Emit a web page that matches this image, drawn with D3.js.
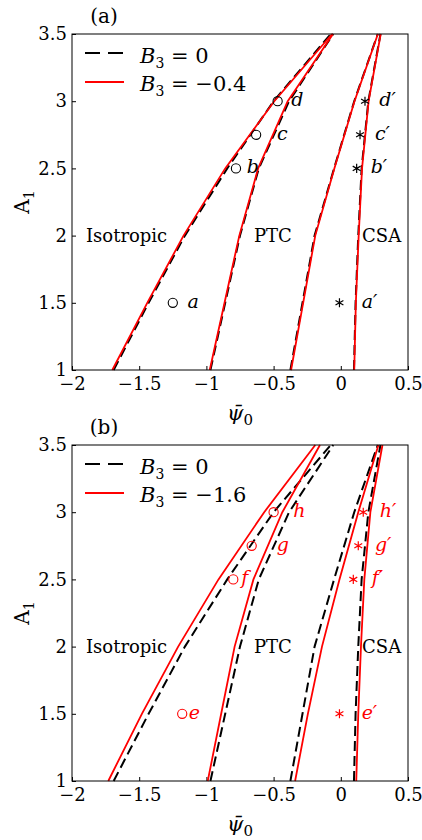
<!DOCTYPE html>
<html>
<head>
<meta charset="utf-8">
<script src="https://cdn.jsdelivr.net/npm/d3@7"></script>
<style>
  body { margin: 0; background: #fff; }
  text { font-family: "DejaVu Serif", serif; fill: #000; }
</style>
</head>
<body>
<svg id="chart" width="422" height="840"></svg>
<script>
// A1 values where the phase boundaries were sampled
const a1Grid = [1, 1.5, 2, 2.5, 3, 3.5];

// B3 = 0 boundaries (psi0 at each A1)
const zeroBound1 = [-1.69, -1.43, -1.16, -0.845, -0.50, -0.075];
const zeroBound2 = [-0.97, -0.86, -0.75, -0.61, -0.385, -0.056];
const zeroBound3 = [-0.375, -0.285, -0.195, -0.05, 0.10, 0.275];
const zeroBound4 = [0.098, 0.11, 0.13, 0.155, 0.205, 0.295];

// B3 = -0.4
const weakBound1 = [-1.70, -1.44, -1.17, -0.86, -0.495, -0.065];
const weakBound2 = [-0.975, -0.865, -0.755, -0.615, -0.395, -0.058];
const weakBound3 = [-0.37, -0.28, -0.19, -0.048, 0.102, 0.276];
const weakBound4 = [0.10, 0.112, 0.133, 0.158, 0.207, 0.297];

// B3 = -1.6
const strongBound1 = [-1.73, -1.48, -1.21, -0.91, -0.57, -0.19];
const strongBound2 = [-0.99, -0.89, -0.79, -0.65, -0.435, -0.155];
const strongBound3 = [-0.34, -0.245, -0.14, -0.01, 0.13, 0.28];
const strongBound4 = [0.115, 0.13, 0.15, 0.175, 0.22, 0.31];

// marked states
const pointA1 = [1.5, 2.5, 2.75, 3];
const circlePsiA = [-1.25, -0.78, -0.63, -0.47];
const starPsiA = [-0.01, 0.118, 0.143, 0.18];
const circleLabelPsiA = [-1.14, -0.70, -0.475, -0.368];
const starLabelPsiA = [0.155, 0.222, 0.254, 0.286];
const circleNamesA = ["a", "b", "c", "d"];
const starNamesA = ["a′", "b′", "c′", "d′"];

const circlePsiB = [-1.18, -0.80, -0.663, -0.50];
const starPsiB = [-0.01, 0.093, 0.13, 0.167];
const circleLabelPsiB = [-1.132, -0.74, -0.476, -0.354];
const starLabelPsiB = [0.155, 0.23, 0.254, 0.29];
const circleNamesB = ["e", "f", "g", "h"];
const starNamesB = ["e′", "f′", "g′", "h′"];

const regionNames = ["Isotropic", "PTC", "CSA"];
const regionPsi = [-1.896, -0.646, 0.158];
const regionA1 = 2;

const xTicks = [-2, -1.5, -1, -0.5, 0, 0.5];
const xTickLabels = ["−2", "−1.5", "−1", "−0.5", "0", "0.5"];
const yTicks = [1, 1.5, 2, 2.5, 3, 3.5];
const yTickLabels = ["1", "1.5", "2", "2.5", "3", "3.5"];

const svg = d3.select("#chart");
const LEFT = 72;
const W = 336;
const H = 336;
const RED = "#ff0000";

const x = d3.scaleLinear().domain([-2, 0.5]).range([0, W]);
const y = d3.scaleLinear().domain([1, 3.5]).range([H, 0]);

const line = d3.line()
  .x(d => x(d[0]))
  .y(d => y(d[1]));

function drawPanel(top, tag, redLabel, redBounds, pts) {
  const g = svg.append("g").attr("transform", `translate(${LEFT},${top})`);

  const xAxis = d3.axisBottom(x).tickValues(xTicks)
    .tickFormat((d, i) => xTickLabels[i]).tickSize(-4).tickPadding(7);
  const yAxis = d3.axisLeft(y).tickValues(yTicks)
    .tickFormat((d, i) => yTickLabels[i]).tickSize(-4).tickPadding(5);

  const gx = g.append("g").attr("transform", `translate(0,${H})`).call(xAxis);
  const gy = g.append("g").call(yAxis);
  [gx, gy].forEach(a => {
    a.select(".domain").remove();
    a.selectAll("text").style("font-family", "DejaVu Serif").style("font-size", "18px");
    a.selectAll("line").attr("stroke", "#000");
  });

  // black dashed B3 = 0
  [zeroBound1, zeroBound2, zeroBound3, zeroBound4].forEach(b => {
    g.append("path")
      .attr("d", line(b.map((v, i) => [v, a1Grid[i]])))
      .attr("fill", "none")
      .attr("stroke", "#000")
      .attr("stroke-width", 2)
      .attr("stroke-dasharray", "10,5");
  });
  // red B3 != 0
  redBounds.forEach(b => {
    g.append("path")
      .attr("d", line(b.map((v, i) => [v, a1Grid[i]])))
      .attr("fill", "none")
      .attr("stroke", RED)
      .attr("stroke-width", 1.8);
  });

  // region labels
  regionNames.forEach((name, i) => {
    g.append("text")
      .attr("x", x(regionPsi[i]))
      .attr("y", y(regionA1) + 6)
      .style("font-size", "18px")
      .text(name);
  });

  // markers
  const col = pts.color;
  pts.circles.forEach((v, i) => {
    g.append("circle")
      .attr("cx", x(v)).attr("cy", y(pointA1[i]))
      .attr("r", 4.6)
      .attr("fill", "none").attr("stroke", col).attr("stroke-width", 1.1);
    g.append("text")
      .attr("x", x(pts.circleLabels[i])).attr("y", y(pointA1[i]) + 5)
      .style("font-size", "19px").style("font-style", "italic")
      .style("fill", col)
      .text(pts.circleNames[i]);
  });
  const star = d3.symbol(d3.symbolAsterisk, 58);
  pts.stars.forEach((v, i) => {
    g.append("path")
      .attr("d", star())
      .attr("transform", `translate(${x(v)},${y(pointA1[i])})`)
      .attr("fill", "none").attr("stroke", col).attr("stroke-width", 1.2);
    g.append("text")
      .attr("x", x(pts.starLabels[i])).attr("y", y(pointA1[i]) + 5)
      .style("font-size", "19px").style("font-style", "italic")
      .style("fill", col)
      .text(pts.starNames[i]);
  });

  // legend
  g.append("line")
    .attr("x1", 13).attr("x2", 52).attr("y1", 19).attr("y2", 19)
    .attr("stroke", "#000").attr("stroke-width", 2).attr("stroke-dasharray", "15,8");
  g.append("line")
    .attr("x1", 13).attr("x2", 52).attr("y1", 48).attr("y2", 48)
    .attr("stroke", RED).attr("stroke-width", 1.8);
  [["= 0", 29], [redLabel, 57]].forEach(([rest, yy]) => {
    const t = g.append("text").attr("x", 68).attr("y", yy).style("font-size", "21px");
    t.append("tspan").style("font-style", "italic").text("B");
    t.append("tspan").attr("dy", 5).style("font-size", "14px").text("3");
    t.append("tspan").attr("dy", -5).text(" " + rest);
  });

  // frame
  g.append("rect")
    .attr("width", W).attr("height", H)
    .attr("fill", "none").attr("stroke", "#000").attr("stroke-width", 1);

  // panel tag
  svg.append("text")
    .attr("x", 104).attr("y", top - 11)
    .attr("text-anchor", "middle")
    .style("font-size", "20px")
    .text(tag);

  // axis titles
  const xt = svg.append("text")
    .attr("x", LEFT + W / 2).attr("y", top + H + 50)
    .attr("text-anchor", "middle")
    .style("font-size", "21px");
  xt.append("tspan").style("font-style", "italic").text("ψ\u0304");
  xt.append("tspan").attr("dy", 5).style("font-size", "15px").text("0");

  const yt = svg.append("text")
    .attr("transform", `translate(29,${top + H / 2}) rotate(-90)`)
    .attr("text-anchor", "middle")
    .style("font-size", "20px");
  yt.append("tspan").text("A");
  yt.append("tspan").attr("dy", 5).style("font-size", "14px").text("1");
}

drawPanel(34, "(a)", "= −0.4", [weakBound1, weakBound2, weakBound3, weakBound4], {
  color: "#000",
  circles: circlePsiA, stars: starPsiA,
  circleLabels: circleLabelPsiA, starLabels: starLabelPsiA,
  circleNames: circleNamesA, starNames: starNamesA,
});

drawPanel(445, "(b)", "= −1.6", [strongBound1, strongBound2, strongBound3, strongBound4], {
  color: RED,
  circles: circlePsiB, stars: starPsiB,
  circleLabels: circleLabelPsiB, starLabels: starLabelPsiB,
  circleNames: circleNamesB, starNames: starNamesB,
});
</script>
</body>
</html>
